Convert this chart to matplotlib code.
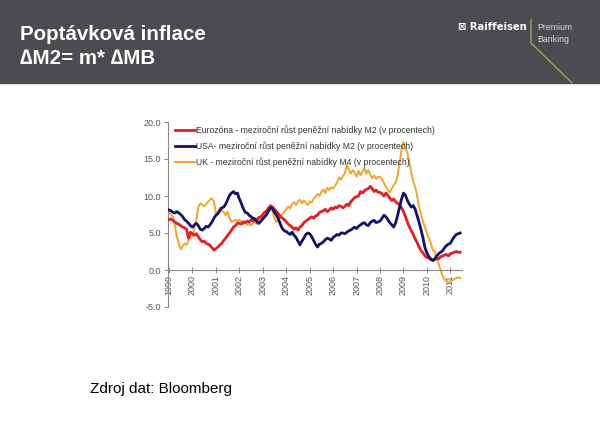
import numpy as np
import matplotlib
matplotlib.use("Agg")
import matplotlib.pyplot as plt
from matplotlib.lines import Line2D

plt.rcParams['font.family'] = ['Liberation Sans', 'DejaVu Sans']

# monthly values, Jan 1999 .. Jun 2011
start_year = 1999

eurozone_m2 = [
    6.8, 6.9, 6.7, 6.5, 6.3, 6.2, 6.0, 5.8, 5.7, 5.5, 4.3, 5.1,
    4.9, 4.7, 4.9, 4.5, 4.1, 3.8, 3.9, 3.6, 3.5, 3.3, 3.0, 2.7,
    2.9, 3.1, 3.4, 3.6, 4.0, 4.3, 4.7, 5.0, 5.4, 5.8, 6.0, 6.3,
    6.3, 6.2, 6.5, 6.4, 6.6, 6.5, 6.8, 6.6, 6.9, 6.8, 7.1, 7.2,
    7.5, 7.8, 8.0, 8.4, 8.7, 8.5, 8.2, 7.9, 7.6, 7.2, 7.0, 6.8,
    6.5, 6.2, 6.0, 5.8, 5.5, 5.7, 5.4, 5.8, 6.0, 6.4, 6.6, 6.8,
    7.0, 7.2, 7.0, 7.3, 7.4, 7.8, 7.9, 8.0, 8.2, 7.9, 8.1, 8.4,
    8.2, 8.5, 8.4, 8.7, 8.6, 8.4, 8.6, 8.9, 8.7, 9.2, 9.5, 9.8,
    9.9, 10.0, 10.6, 10.4, 10.7, 10.9, 11.0, 11.3, 11.0, 10.6, 10.8, 10.5,
    10.5, 10.3, 10.0, 10.4, 10.1, 9.7, 9.4, 9.6, 9.2, 9.0, 8.8, 8.4,
    7.9, 7.2, 6.5, 5.8, 5.3, 4.8, 4.2, 3.7, 3.1, 2.6, 2.3, 1.9,
    1.7, 1.6, 1.4, 1.3, 1.4, 1.6, 1.5, 1.8, 1.9, 2.0, 2.1, 1.9,
    2.2, 2.3, 2.4, 2.5, 2.4, 2.4,
]

usa_m2 = [
    8.1, 8.0, 7.8, 7.7, 7.9, 7.7, 7.5, 7.2, 6.8, 6.6, 6.3, 6.0,
    5.8, 6.1, 6.3, 6.0, 5.5, 5.4, 5.6, 5.9, 5.8, 6.1, 6.5, 7.0,
    7.4, 7.6, 8.0, 8.4, 8.5, 8.9, 9.5, 10.1, 10.4, 10.6, 10.3, 10.4,
    9.6, 9.0, 8.3, 7.8, 7.7, 7.4, 7.2, 7.0, 6.9, 6.5, 6.3, 6.6,
    6.9, 7.2, 7.5, 8.0, 8.4, 8.3, 7.8, 7.4, 6.9, 6.2, 5.6, 5.3,
    5.2, 5.0, 4.8, 5.1, 4.7, 4.4, 3.9, 3.4, 3.9, 4.3, 4.8, 5.0,
    4.9, 4.5, 4.0, 3.5, 3.1, 3.5, 3.6, 3.8, 4.1, 4.3, 4.2, 4.0,
    4.4, 4.6, 4.8, 4.7, 5.0, 5.0, 4.9, 5.1, 5.3, 5.4, 5.6, 5.8,
    5.6, 5.9, 6.1, 6.3, 6.4, 6.1, 6.0, 6.4, 6.6, 6.7, 6.4, 6.5,
    6.6, 7.0, 7.4, 7.2, 6.8, 6.4, 6.1, 5.8, 6.4, 7.4, 8.5, 9.6,
    10.4, 10.1, 9.4, 8.9, 8.5, 8.7, 8.2, 7.3, 6.4, 5.4, 4.3, 3.0,
    2.3, 1.8, 1.5, 1.3, 1.5, 1.9, 2.2, 2.4, 2.6, 3.0, 3.3, 3.5,
    3.6, 4.1, 4.5, 4.8, 4.9, 5.0,
]

uk_m4 = [
    7.7, 7.5, 7.2, 6.0, 4.5, 3.6, 2.8, 3.2, 3.6, 3.4, 4.0, 4.5,
    4.5, 5.7, 6.8, 8.5, 9.0, 8.8, 8.6, 8.9, 9.2, 9.5, 9.7, 9.2,
    7.7, 7.9, 8.4, 8.1, 7.8, 7.4, 7.9, 7.0, 6.5, 6.6, 6.8, 6.5,
    6.8, 6.6, 6.2, 6.5, 6.1, 6.3, 6.0, 6.3, 6.5, 6.2, 6.8, 7.0,
    7.4, 7.2, 7.6, 8.1, 8.3, 7.9, 7.0, 6.5, 6.8, 7.3, 7.6, 7.9,
    8.2, 8.6, 8.3, 8.9, 9.2, 8.8, 9.3, 9.5, 9.0, 9.4, 9.1, 8.8,
    9.3, 9.1, 9.6, 9.9, 10.3, 10.0, 10.6, 10.9, 10.4, 11.1, 10.8, 11.2,
    11.0, 11.4, 11.8, 12.5, 12.2, 12.7, 13.1, 14.2, 13.6, 13.0, 13.5, 13.2,
    12.6, 13.4, 12.8, 13.3, 13.8, 13.0, 13.5, 12.9, 12.4, 12.8, 12.3, 12.6,
    12.6, 12.2, 11.8, 11.2, 10.8, 10.5, 11.0, 11.5, 11.8, 12.8, 14.5, 16.2,
    17.3, 16.5, 15.8, 14.5, 13.1, 12.0, 11.2, 10.0, 8.5, 7.5, 6.5, 5.8,
    5.0, 4.3, 3.6, 2.7, 2.5, 1.5, 0.8, 0.0, -0.8, -1.3, -1.5, -1.6,
    -1.5, -1.4, -1.2, -1.1, -1.0, -1.1,
]

labels = [
    "Eurozóna - meziroční růst peněžní nabídky M2 (v procentech)",
    "USA- meziroční růst peněžní nabídky M2 (v procentech)",
    "UK - meziroční růst peněžní nabídky M4 (v procentech)",
]
year_ticks = list(range(1999, 2012))
y_ticks = [-5, 0, 5, 10, 15, 20]

t = start_year + np.arange(len(eurozone_m2)) / 12.0

fig = plt.figure(figsize=(6, 4.24), dpi=100)
fig.patch.set_facecolor("white")

# dark header band + branding
fig.patches.append(plt.Rectangle((0, 1 - 83 / 424), 1, 83 / 424, transform=fig.transFigure,
                                 color="#4b4c50", zorder=0))
fig.text(20 / 600, 1 - 34 / 424, "Poptávková inflace", color="white", fontsize=14.8,
         fontweight="bold", va="center")
fig.text(20 / 600, 1 - 59 / 424, "∆M2= m* ∆MB", color="white", fontsize=14.8,
         fontweight="bold", va="center")
fig.text(458 / 600, 1 - 27 / 424, "⊠ Raiffeisen", color="white", fontsize=7.2,
         fontweight="bold", va="center", family=["DejaVu Sans"])
fig.text(537 / 600, 1 - 27 / 424, "Premium", color="#d8d8d8", fontsize=6.3, va="center")
fig.text(537 / 600, 1 - 39 / 424, "Banking", color="#d8d8d8", fontsize=6.3, va="center")
fig.lines.append(Line2D([531 / 600, 531 / 600, 572 / 600],
                        [1 - 20 / 424, 1 - 43 / 424, 1 - 83 / 424],
                        transform=fig.transFigure, color="#b0a660", lw=0.9))

fig.text(90 / 600, 1 - 389 / 424, "Zdroj dat: Bloomberg", color="black", fontsize=11,
         va="center")

# chart
x0, x1 = 1998.96, 2011.5
px_per_year = 23.45
left_px = 169 - (1999 - x0) * px_per_year
right_px = left_px + (x1 - x0) * px_per_year
ax = fig.add_axes([left_px / 600, 1 - 307 / 424, (right_px - left_px) / 600, 185 / 424])
ax.set_facecolor("none")

# set_position resets the ticks, so do it before styling them
for s in ("top", "right"):
    ax.spines[s].set_visible(False)
ax.spines["bottom"].set_position(("data", 0))

ax.plot(t, eurozone_m2, color="#e31e24", lw=2.0, label=labels[0], zorder=3)
ax.plot(t, usa_m2, color="#12126a", lw=2.0, label=labels[1], zorder=4)
ax.plot(t, uk_m4, color="#f3a42e", lw=1.4, label=labels[2], zorder=2)

ax.set_xlim(x0, x1)
ax.set_ylim(-5, 20)
ax.set_yticks(y_ticks)
ax.set_yticklabels([f"{v:.1f}" for v in y_ticks])
ax.set_xticks(year_ticks)
ax.set_xticklabels([str(y) for y in year_ticks])

ax.spines["left"].set_color("#888888")
ax.spines["bottom"].set_color("#888888")
ax.spines["left"].set_linewidth(0.8)
ax.spines["bottom"].set_linewidth(0.8)
ax.tick_params(axis="y", length=3, width=0.7, color="#888888", labelsize=6.5,
               labelcolor="#555555", pad=2)
ax.tick_params(axis="x", direction="inout", length=5, width=0.7, color="#888888",
               labelsize=6.5, labelcolor="#555555", pad=1, labelrotation=90)

ax.legend(loc="upper left", bbox_to_anchor=(0.0, 1.02), frameon=False, fontsize=6.2,
          handlelength=2.3, handletextpad=0.15, labelspacing=0.75, borderaxespad=0.4,
          labelcolor="#333333")

fig.savefig("out.png", dpi=100)
